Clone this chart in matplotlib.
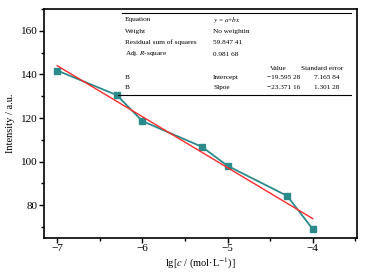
import matplotlib
matplotlib.use("Agg")
import matplotlib.pyplot as plt
import numpy as np
from matplotlib.ticker import MultipleLocator

plt.rcParams['font.family'] = ['Liberation Serif', 'DejaVu Serif']
plt.rcParams['mathtext.fontset'] = 'stix'

x_vals = [-7.0, -6.3, -6.0, -5.3, -5.0, -4.3, -4.0]
y_vals = [141.8, 130.5, 118.6, 106.8, 98.1, 84.3, 69.1]
intercept = -19.59528
slope = -23.37116

xt = [-7, -6, -5, -4]
yt = [80, 100, 120, 140, 160]

fig = plt.figure(figsize=(3.65, 2.74), dpi=100)
ax = fig.add_axes([44/365, 1-238/274, (357-44)/365, (238-9)/274])

ax.plot(x_vals, y_vals, color='#2b8a8a', lw=1.3, marker='s', ms=4.5,
        mfc='#2b8a8a', mec='#2b8a8a', zorder=3)
xf = np.array([x_vals[0], x_vals[-1]])
ax.plot(xf, intercept + slope*xf, color='#ff2a2a', lw=1.0, zorder=4)

ax.set_xlim(-7.155, -3.48)
ax.set_ylim(65, 170)
ax.set_xticks(xt)
ax.set_xticklabels(['\u22127', '\u22126', '\u22125', '\u22124'])
ax.set_yticks(yt)
ax.xaxis.set_minor_locator(MultipleLocator(0.5))
ax.yaxis.set_minor_locator(MultipleLocator(10))
ax.tick_params(which='major', direction='out', length=3.5, width=1, labelsize=8, pad=1,
               top=False, right=False)
ax.tick_params(which='minor', direction='out', length=2.2, width=1, top=False, right=False)
for s in ax.spines.values():
    s.set_linewidth(1.2)

ax.set_ylabel('Intensity / a.u.', fontsize=7.5, labelpad=4)
ax.set_xlabel('lg[$c$ / (mol\u00b7L$^{-1}$)]', fontsize=7.5, labelpad=2)

# statistics table
fs = 5.2
def T(x, y, s, ha='left'):
    fig.text(x/365, 1-y/274, s, fontsize=fs, ha=ha, va='center')

fig.add_artist(plt.Line2D([122/365, 351/365], [1-13/274, 1-13/274], color='black', lw=0.8))
fig.add_artist(plt.Line2D([118/365, 351/365], [1-95/274, 1-95/274], color='black', lw=0.8))
T(125, 20, 'Equation'); T(213, 20, '$y$ = $a$+$bx$')
T(125, 31, 'Weight'); T(213, 31, 'No weightin')
T(125, 42.5, 'Residual sum of squares'); T(213, 42.5, '59.847 41')
T(125, 54, 'Adj. $R$-square'); T(213, 54, '0.981 68')
T(278, 68, 'Value', ha='center'); T(322, 68, 'Standard error', ha='center')
T(125, 77.5, 'B'); T(213, 77.5, 'Intercept'); T(300, 77.5, '\u221219.595 28', ha='right'); T(339, 77.5, '7.165 84', ha='right')
T(125, 87.5, 'B'); T(213, 87.5, 'Slpoe'); T(300, 87.5, '\u221223.371 16', ha='right'); T(339, 87.5, '1.301 28', ha='right')

fig.savefig('out.png', dpi=100)
